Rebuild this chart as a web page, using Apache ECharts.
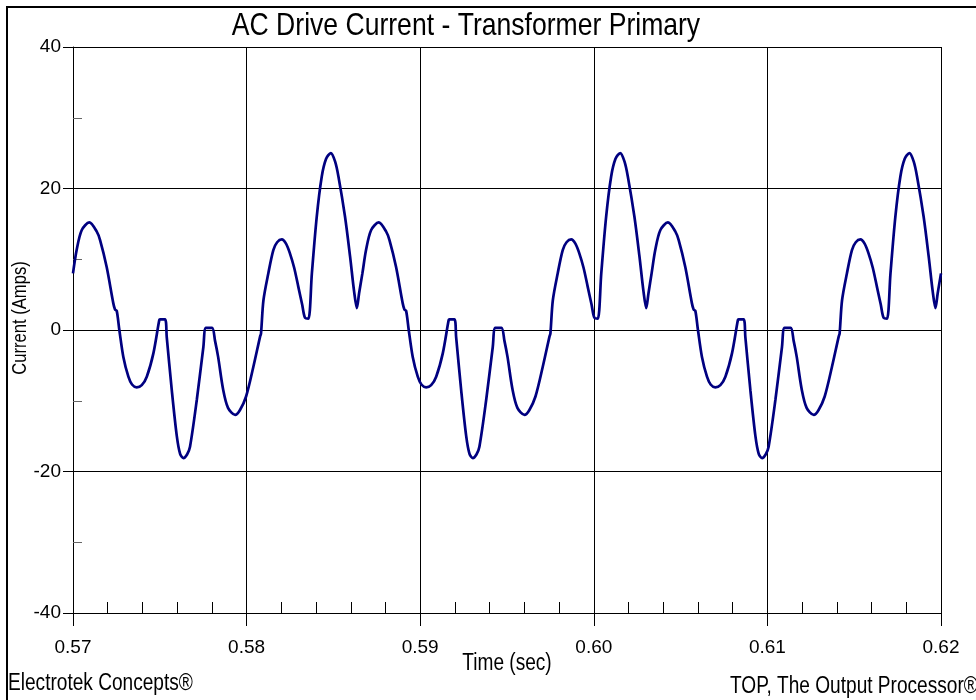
<!DOCTYPE html>
<html>
<head>
<meta charset="utf-8">
<script src="https://cdn.jsdelivr.net/npm/echarts@6/dist/echarts.min.js"></script>
<style>
    html, body { margin: 0; padding: 0; background: #fff; }
    #chart { width: 976px; height: 700px; }
</style>
</head>
<body>
<div id="chart"></div>
<script>
// time (sec) of each sample, one line per 60 Hz cycle
var timeSec = [
    0.57000, 0.57021, 0.57050, 0.57094, 0.57137, 0.57156, 0.57194, 0.57232, 0.57242, 0.57252, 0.57267, 0.57290, 0.57319, 0.57340, 0.57367, 0.57396, 0.57425, 0.57463, 0.57497, 0.57501, 0.57530, 0.57540, 0.57569, 0.57598, 0.57617, 0.57636, 0.57657, 0.57674, 0.57713, 0.57751, 0.57766, 0.57801, 0.57818, 0.57836, 0.57864, 0.57893, 0.57934, 0.57962, 0.57997, 0.58039, 0.58078, 0.58083, 0.58097, 0.58125, 0.58154, 0.58176, 0.58203, 0.58227, 0.58250, 0.58274, 0.58298, 0.58320, 0.58337, 0.58356, 0.58376, 0.58404, 0.58433, 0.58458, 0.58485, 0.58510, 0.58529, 0.58567, 0.58596, 0.58619, 0.58635, 0.58648,
    0.58667, 0.58688, 0.58717, 0.58761, 0.58804, 0.58823, 0.58861, 0.58899, 0.58909, 0.58919, 0.58934, 0.58957, 0.58986, 0.59007, 0.59034, 0.59063, 0.59092, 0.59130, 0.59164, 0.59168, 0.59197, 0.59207, 0.59236, 0.59265, 0.59284, 0.59303, 0.59324, 0.59341, 0.59380, 0.59418, 0.59433, 0.59468, 0.59485, 0.59503, 0.59531, 0.59560, 0.59601, 0.59629, 0.59664, 0.59706, 0.59745, 0.59750, 0.59764, 0.59792, 0.59821, 0.59843, 0.59870, 0.59894, 0.59917, 0.59941, 0.59965, 0.59987, 0.60004, 0.60023, 0.60043, 0.60071, 0.60100, 0.60125, 0.60152, 0.60177, 0.60196, 0.60234, 0.60263, 0.60286, 0.60302, 0.60315,
    0.60333, 0.60354, 0.60383, 0.60427, 0.60470, 0.60489, 0.60527, 0.60565, 0.60575, 0.60585, 0.60600, 0.60623, 0.60652, 0.60673, 0.60700, 0.60729, 0.60758, 0.60796, 0.60830, 0.60834, 0.60863, 0.60873, 0.60902, 0.60931, 0.60950, 0.60969, 0.60990, 0.61007, 0.61046, 0.61084, 0.61099, 0.61134, 0.61151, 0.61169, 0.61197, 0.61226, 0.61267, 0.61295, 0.61330, 0.61372, 0.61411, 0.61416, 0.61430, 0.61458, 0.61487, 0.61509, 0.61536, 0.61560, 0.61583, 0.61607, 0.61631, 0.61653, 0.61670, 0.61689, 0.61709, 0.61737, 0.61766, 0.61791, 0.61818, 0.61843, 0.61862, 0.61900, 0.61929, 0.61952, 0.61968, 0.61981,
    0.62000
];

// current (Amps) at those times
var currentAmps = [
    8.0, 11.3, 14.1, 15.2, 13.9, 12.7, 8.9, 3.8, 2.9, 2.7, 0, -3.8, -6.6, -7.7, -8.1, -7.8, -6.6, -3.3, 1.4, 1.5, 1.5, -1.0, -8.5, -15.0, -17.5, -18.1, -17.6, -16.5, -9.9, -2.4, 0.3, 0.3, -1.5, -3.8, -8.3, -11.0, -12.0, -11.3, -9.4, -5.2, -0.9, -0.5, 4.2, 8.0, 11.3, 12.4, 12.8, 12.2, 10.8, 8.8, 6.1, 3.6, 1.7, 1.6, 8.0, 16.0, 21.7, 24.2, 25.0, 23.8, 21.7, 16.0, 10.4, 5.5, 3.1, 5.2,
    8.0, 11.3, 14.1, 15.2, 13.9, 12.7, 8.9, 3.8, 2.9, 2.7, 0, -3.8, -6.6, -7.7, -8.1, -7.8, -6.6, -3.3, 1.4, 1.5, 1.5, -1.0, -8.5, -15.0, -17.5, -18.1, -17.6, -16.5, -9.9, -2.4, 0.3, 0.3, -1.5, -3.8, -8.3, -11.0, -12.0, -11.3, -9.4, -5.2, -0.9, -0.5, 4.2, 8.0, 11.3, 12.4, 12.8, 12.2, 10.8, 8.8, 6.1, 3.6, 1.7, 1.6, 8.0, 16.0, 21.7, 24.2, 25.0, 23.8, 21.7, 16.0, 10.4, 5.5, 3.1, 5.2,
    8.0, 11.3, 14.1, 15.2, 13.9, 12.7, 8.9, 3.8, 2.9, 2.7, 0, -3.8, -6.6, -7.7, -8.1, -7.8, -6.6, -3.3, 1.4, 1.5, 1.5, -1.0, -8.5, -15.0, -17.5, -18.1, -17.6, -16.5, -9.9, -2.4, 0.3, 0.3, -1.5, -3.8, -8.3, -11.0, -12.0, -11.3, -9.4, -5.2, -0.9, -0.5, 4.2, 8.0, 11.3, 12.4, 12.8, 12.2, 10.8, 8.8, 6.1, 3.6, 1.7, 1.6, 8.0, 16.0, 21.7, 24.2, 25.0, 23.8, 21.7, 16.0, 10.4, 5.5, 3.1, 5.2,
    8.0
];

var xTicks = [0.57, 0.58, 0.59, 0.60, 0.61, 0.62];
var yTicks = [-40, -20, 0, 20, 40];

var chartTitle = 'AC Drive Current - Transformer Primary';
var xName = 'Time (sec)';
var yName = 'Current (Amps)';
var footLeft = 'Electrotek Concepts®';
var footRight = 'TOP, The Output Processor®';

var FONT = '"Liberation Sans", Arial, sans-serif';
// the original lettering is a narrow sans, so the free texts get squeezed
var NARROW = 0.83;

var points = [];
for (var i = 0; i < timeSec.length; i++) {
    points.push([timeSec[i], currentAmps[i]]);
}

function narrowText(str, x, y, size, align, rotation) {
    return {
        type: 'text',
        x: x,
        y: y,
        rotation: rotation || 0,
        scaleX: NARROW,
        silent: true,
        style: {
            text: str,
            fill: '#000',
            font: size + 'px ' + FONT,
            textAlign: align,
            textVerticalAlign: 'middle'
        }
    };
}

var chart = echarts.init(document.getElementById('chart'));

var option = {
    backgroundColor: '#fff',
    animation: false,
    grid: {
        left: 73,
        right: 35,
        top: 47,
        bottom: 87
    },
    xAxis: [
        {
            type: 'value',
            min: xTicks[0],
            max: xTicks[xTicks.length - 1],
            interval: 0.01,
            axisLine: { show: true, onZero: false, lineStyle: { color: '#000', width: 1 } },
            axisTick: { show: true, length: 13, lineStyle: { color: '#000' } },
            axisLabel: {
                margin: 25,
                color: '#000',
                fontFamily: FONT,
                fontSize: 19,
                formatter: function (v) { return v.toFixed(2); }
            },
            splitLine: { show: true, lineStyle: { color: '#000', width: 1 } }
        },
        {
            // only the short inner ticks between the labelled ones
            type: 'value',
            position: 'bottom',
            min: xTicks[0],
            max: xTicks[xTicks.length - 1],
            interval: 0.01,
            axisLine: { show: false, onZero: false },
            axisTick: { show: false, inside: true },
            axisLabel: { show: false },
            splitLine: { show: false },
            minorTick: { show: true, splitNumber: 5, length: 11, lineStyle: { color: '#000', width: 1 } }
        }
    ],
    yAxis: [
        {
            type: 'value',
            min: yTicks[0],
            max: yTicks[yTicks.length - 1],
            interval: 20,
            axisLine: { show: true, onZero: false, lineStyle: { color: '#000', width: 1 } },
            axisTick: { show: true, length: 10, lineStyle: { color: '#000' } },
            axisLabel: {
                margin: 12,
                color: '#000',
                fontFamily: FONT,
                fontSize: 19
            },
            splitLine: { show: true, lineStyle: { color: '#000', width: 1 } }
        },
        {
            type: 'value',
            position: 'left',
            min: yTicks[0],
            max: yTicks[yTicks.length - 1],
            interval: 20,
            axisLine: { show: false, onZero: false },
            axisTick: { show: false, inside: true },
            axisLabel: { show: false },
            splitLine: { show: false },
            minorTick: { show: true, splitNumber: 2, length: 9, lineStyle: { color: '#666', width: 1 } }
        }
    ],
    series: [
        {
            type: 'line',
            xAxisIndex: 0,
            yAxisIndex: 0,
            data: points,
            showSymbol: false,
            smooth: 0.3,
            lineStyle: { color: '#000080', width: 2.7 },
            z: 5
        }
    ],
    graphic: [
        {
            type: 'rect',
            shape: { x: 7, y: 7, width: 990, height: 720 },
            style: { fill: null, stroke: '#000', lineWidth: 2 },
            silent: true
        },
        narrowText(chartTitle, 466, 26, 32, 'center'),
        narrowText(xName, 507, 664, 23, 'center'),
        narrowText(yName, 20, 318, 20, 'center', Math.PI / 2),
        narrowText(footLeft, 8, 684, 23, 'left'),
        narrowText(footRight, 730, 687, 23, 'left')
    ]
};

chart.setOption(option);
</script>
</body>
</html>
